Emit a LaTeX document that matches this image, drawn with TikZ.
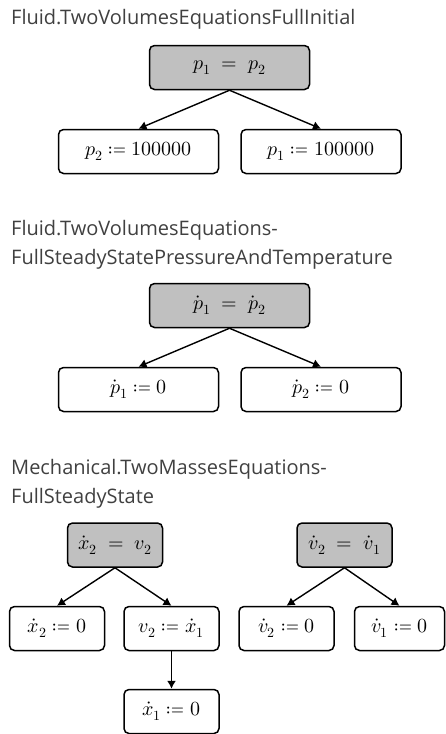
\documentclass[tikz,border=0pt]{standalone}
\usepackage{mathtools}
\usepackage{fontspec}
\usepackage{unicode-math}
\setmathfont{Latin Modern Math}
\setsansfont{Open Sans}
\usepackage{tikz}
\usetikzlibrary{positioning, arrows.meta, calc}
\definecolor{titlegray}{RGB}{64, 64, 64}
\definecolor{boxgray}{RGB}{192, 192, 192}

\begin{document}
\begin{tikzpicture}[x=1pt, y=-1pt, >={Latex[length=8pt, width=9pt]},
    title/.style={anchor=base west, inner sep=0pt, font=\sffamily\fontsize{20}{24}\selectfont, text=titlegray},
    eqbox/.style={draw, line width=1.5pt, rounded corners=5pt, fill=boxgray, minimum height=44pt,
      font=\fontsize{20}{24}\selectfont},
    asgbox/.style={draw, line width=1.5pt, rounded corners=5pt, fill=white, minimum height=44pt,
      font=\fontsize{20}{24}\selectfont},
    link/.style={->, line width=1.4pt}]
  \useasboundingbox (0,0) rectangle (446,734);
  % First: initial pressures
  \node[title] (tA) at (11, 24) {Fluid.TwoVolumesEquationsFullInitial};
  \node[eqbox, minimum width=160pt] (eqA) at (229.5, 67.5) {$p_1 \;=\; p_2$};
  \node[asgbox, minimum width=160pt] (asgA1) at (138.5, 151.5) {$p_2 \coloneqq 100000$};
  \node[asgbox, minimum width=160pt] (asgA2) at (321, 151.5) {$p_1 \coloneqq 100000$};
  \draw[link] (eqA.south) -- (asgA1.north);
  \draw[link] (eqA.south) -- (asgA2.north);
  % Second: steady state pressure
  \node[title] (tB1) at (11, 235) {Fluid.TwoVolumesEquations-};
  \node[title] (tB2) at (11, 264) {FullSteadyStatePressureAndTemperature};
  \node[eqbox, minimum width=160pt] (eqB) at (229.5, 305.5) {$\dot p_1 \;=\; \dot p_2$};
  \node[asgbox, minimum width=160pt] (asgB1) at (138.5, 389.5) {$\dot p_1 \coloneqq 0$};
  \node[asgbox, minimum width=160pt] (asgB2) at (321, 389.5) {$\dot p_2 \coloneqq 0$};
  \draw[link] (eqB.south) -- (asgB1.north);
  \draw[link] (eqB.south) -- (asgB2.north);
  % Third: two masses
  \node[title] (tC1) at (11, 474) {Mechanical.TwoMassesEquations-};
  \node[title] (tC2) at (11, 503) {FullSteadyState};
  \node[eqbox, minimum width=95pt] (eqC) at (115, 545) {$\dot x_2 \;=\; v_2$};
  \node[eqbox, minimum width=95pt] (eqD) at (344.5, 545) {$\dot v_2 \;=\; \dot v_1$};
  \node[asgbox, minimum width=95pt] (asgC1) at (57, 628.5) {$\dot x_2 \coloneqq 0$};
  \node[asgbox, minimum width=95pt] (asgC2) at (171.5, 628.5) {$v_2 \coloneqq \dot x_1$};
  \node[asgbox, minimum width=95pt] (asgC3) at (171.5, 711.5) {$\dot x_1 \coloneqq 0$};
  \node[asgbox, minimum width=95pt] (asgD1) at (286.5, 628.5) {$\dot v_2 \coloneqq 0$};
  \node[asgbox, minimum width=90pt] (asgD2) at (399.5, 628.5) {$\dot v_1 \coloneqq 0$};
  \draw[link] (eqC.south) -- (asgC1.north);
  \draw[link] (eqC.south) -- (asgC2.north);
  \draw[link] (asgC2.south) -- (asgC3.north);
  \draw[link] (eqD.south) -- (asgD1.north);
  \draw[link] (eqD.south) -- (asgD2.north);
\end{tikzpicture}
\end{document}
